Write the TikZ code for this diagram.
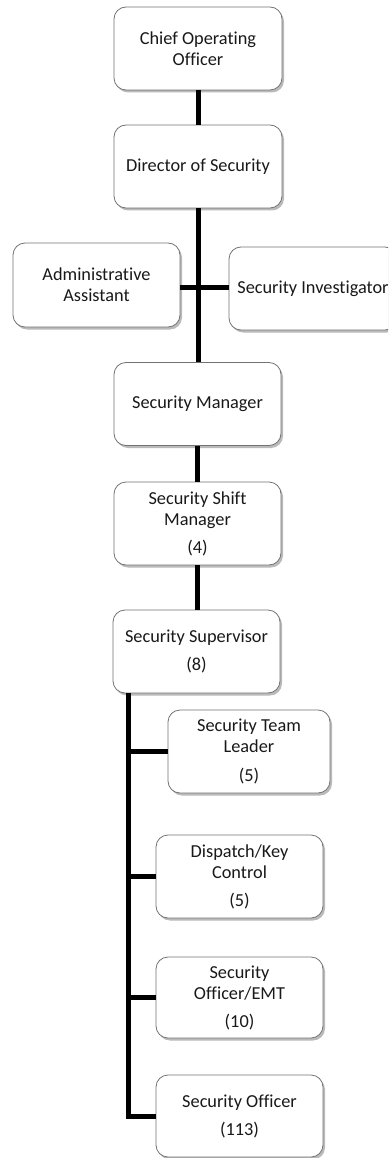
\documentclass[tikz,border=0pt]{standalone}
\usepackage{fontspec}
\setmainfont[Ligatures=NoCommon]{Carlito}
\usetikzlibrary{shadows}
\begin{document}
\begin{tikzpicture}[x=1pt,y=-1pt,
  box/.style={rectangle, rounded corners=12pt, draw=black!55, line width=0.8pt, fill=white,
    minimum width=168pt, minimum height=83pt, align=center, inner sep=2pt,
    font=\fontsize{18.3}{21}\selectfont, text=black!90,
    drop shadow={shadow xshift=2pt, shadow yshift=-2.5pt, fill=black!45, opacity=0.6}},
  link/.style={line width=5pt, black, line join=miter}]
\clip (0,0) rectangle (388,1158);
\fill[white] (0,0) rectangle (388,1158);

\node[box] (coo) at (198,48.5) {Chief Operating\\Officer};
\node[box] (dir) at (198,166.5) {Director of Security};
\node[box, minimum width=167pt, minimum height=84pt] (adm) at (96.5,285) {Administrative\\Assistant};
\node[box] (inv) at (313,288.5) {Security Investigator};
\node[box, minimum width=167pt] (mgr) at (197.5,404) {Security Manager};
\node[box, minimum width=167pt] (shift) at (197.5,523.5) {Security Shift\\Manager\\[7pt](4)};
\node[box, minimum width=167pt] (sup) at (196.5,651.5) {Security Supervisor\\[7pt](8)};
\node[box, minimum width=162pt] (tl) at (249,751.5) {Security Team\\Leader\\[8pt](5)};
\node[box, minimum width=167pt] (disp) at (239.5,876.5) {Dispatch/Key\\Control\\[7pt](5)};
\node[box, minimum width=167pt, minimum height=81pt] (emt) at (239.5,997.5) {Security\\Officer/EMT\\[7pt](10)};
\node[box, minimum width=167pt, minimum height=82pt] (off) at (239.5,1116) {Security Officer\\[7pt](113)};

\draw[link] (coo.south) -- (dir.north);
\draw[link] (dir.south) -- (mgr.north -| dir.south);
\draw[link] (adm.east |- 0,287) -- (inv.west |- 0,287);
\draw[link] (mgr.south -| 197,0) -- (shift.north -| 197,0);
\draw[link] (shift.south -| 197,0) -- (sup.north -| 197,0);
\coordinate (t) at ([xshift=16pt]sup.south west);
\draw[link] (t) |- (off.west);
\draw[link] (t |- tl.west) -- (tl.west);
\draw[link] (t |- disp.west) -- (disp.west);
\draw[link] (t |- emt.west) -- (emt.west);
\end{tikzpicture}
\end{document}
